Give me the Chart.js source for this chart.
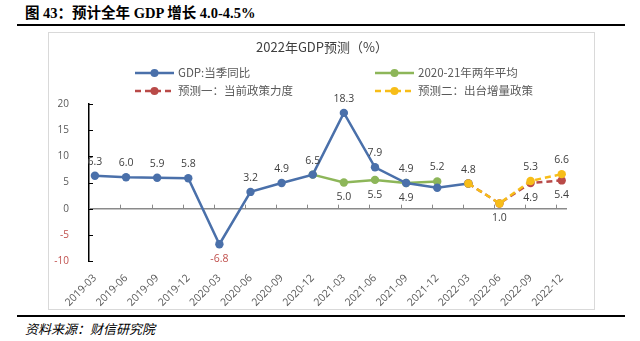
<!DOCTYPE html>
<html>
<head>
<meta charset="utf-8">
<script src="https://cdn.jsdelivr.net/npm/chart.js@4.4.0/dist/chart.umd.min.js"></script>
<style>
  body { margin: 0; width: 640px; height: 341px; background: #fff; position: relative; overflow: hidden; }
  .fig-title { position: absolute; left: 25px; top: 1px; font: bold 14.5px "Liberation Serif", "Noto Sans CJK SC", serif; color: #000; white-space: nowrap; }
  .rule { position: absolute; left: 17px; width: 608px; height: 2px; background: #000; }
  .box { position: absolute; left: 48px; top: 32px; width: 545px; height: 276px; border: 1px solid #d9d9d9; }
  #wrap { position: absolute; left: 48px; top: 32px; width: 547px; height: 278px; }
  .source { position: absolute; left: 25px; top: 319px; font: italic 13px "Noto Sans CJK SC", sans-serif; color: #000; white-space: nowrap; }
</style>
</head>
<body>
<div class="fig-title">图 43：预计全年 GDP 增长 4.0-4.5%</div>
<div class="rule" style="top:24px"></div>
<div class="box"></div>
<div id="wrap"><canvas id="gdpChart" width="547" height="278"></canvas></div>
<div class="rule" style="top:315px"></div>
<div class="source">资料来源：财信研究院</div>

<script>
const quarters = ['2019-03', '2019-06', '2019-09', '2019-12', '2020-03', '2020-06', '2020-09', '2020-12',
                  '2021-03', '2021-06', '2021-09', '2021-12', '2022-03', '2022-06', '2022-09', '2022-12'];
const gdpYoY = [6.3, 6.0, 5.9, 5.8, -6.8, 3.2, 4.9, 6.5, 18.3, 7.9, 4.9, 4.0, 4.8, null, null, null];
const twoYearAvg = [null, null, null, null, null, null, null, 6.5, 5.0, 5.5, 4.9, 5.2, null, null, null, null];
const forecastCurrent = [null, null, null, null, null, null, null, null, null, null, null, null, 4.8, 1.0, 4.9, 5.4];
const forecastStimulus = [null, null, null, null, null, null, null, null, null, null, null, null, 4.8, 1.0, 5.3, 6.6];
const yTicks = [-10, -5, 0, 5, 10, 15, 20];

// value label side per point: 'a' above, 'b' below, '' none
const gdpLabelSide = ['a', 'a', 'a', 'a', 'b', 'a', 'a', 'a', 'a', 'a', 'a', '', 'a', '', '', ''];
const avgLabelSide = ['', '', '', '', '', '', '', '', 'b', 'b', 'b', 'a', '', '', '', ''];
const currentLabelSide = ['', '', '', '', '', '', '', '', '', '', '', '', '', '', 'b', 'b'];
const stimulusLabelSide = ['', '', '', '', '', '', '', '', '', '', '', '', '', 'b', 'a', 'a'];

const BLUE = '#4a70aa';
const GREEN = '#8db659';
const RED = '#b94a48';
const YELLOW = '#f7bd18';
const NEG_RED = '#c0504d';
const NUM_FONT = '"Open Sans", "Liberation Sans", sans-serif';
const CJK_FONT = '"Noto Sans CJK SC", sans-serif';

function toPoints(values) {
    return values.map((v, i) => ({ x: i, y: v }));
}

// zero line with its small tick marks, plus inner ticks on the y axis
const axisMarks = {
    id: 'axisMarks',
    beforeDatasetsDraw(chart) {
        const { ctx, chartArea, scales } = chart;
        const y0 = scales.y.getPixelForValue(0);
        ctx.save();
        ctx.strokeStyle = '#8a8a8a';
        ctx.lineWidth = 1.5;
        ctx.beginPath();
        ctx.moveTo(chartArea.left, y0);
        ctx.lineTo(chartArea.right, y0);
        ctx.stroke();
        ctx.lineWidth = 1;
        quarters.forEach((q, i) => {
            if (i === 0) return;
            const x = Math.round(scales.x.getPixelForValue(i - 0.18)) + 0.5;
            ctx.beginPath();
            ctx.moveTo(x, y0);
            ctx.lineTo(x, y0 - 4);
            ctx.stroke();
        });
        ctx.strokeStyle = '#000';
        yTicks.forEach(v => {
            const y = Math.round(scales.y.getPixelForValue(v)) + 0.5;
            ctx.beginPath();
            ctx.moveTo(chartArea.left, y);
            ctx.lineTo(chartArea.left + 4, y);
            ctx.stroke();
        });
        ctx.restore();
    }
};

// numbers printed next to the markers
const valueLabels = {
    id: 'valueLabels',
    afterDatasetsDraw(chart) {
        const { ctx } = chart;
        ctx.save();
        ctx.font = '10.5px ' + NUM_FONT;
        ctx.textAlign = 'center';
        ctx.textBaseline = 'middle';
        chart.data.datasets.forEach((ds, di) => {
            const meta = chart.getDatasetMeta(di);
            meta.data.forEach((pt, i) => {
                const side = ds.labelSide[i];
                const v = ds.data[i].y;
                if (!side || v === null) return;
                ctx.fillStyle = v < 0 ? NEG_RED : '#404040';
                ctx.fillText(v.toFixed(1), pt.x, side === 'a' ? pt.y - 14 : pt.y + 15);
            });
        });
        ctx.restore();
    }
};

// chart heading and the two-column legend
const headerAndLegend = {
    id: 'headerAndLegend',
    afterDraw(chart) {
        const { ctx } = chart;
        ctx.save();
        ctx.fillStyle = '#404040';
        ctx.font = '13px ' + CJK_FONT;
        ctx.textAlign = 'center';
        ctx.textBaseline = 'middle';
        ctx.fillText('2022年GDP预测（%）', 274, 15);

        const items = [
            { ds: 0, x: 87, y: 41 },
            { ds: 1, x: 327, y: 41 },
            { ds: 2, x: 87, y: 59 },
            { ds: 3, x: 327, y: 59 }
        ];
        items.forEach(it => {
            const ds = chart.data.datasets[it.ds];
            ctx.strokeStyle = ds.borderColor;
            ctx.lineWidth = 2.5;
            ctx.setLineDash(ds.borderDash || []);
            ctx.beginPath();
            ctx.moveTo(it.x, it.y);
            ctx.lineTo(it.x + 39, it.y);
            ctx.stroke();
            ctx.setLineDash([]);
            ctx.fillStyle = ds.borderColor;
            ctx.beginPath();
            ctx.arc(it.x + 19.5, it.y, 4, 0, Math.PI * 2);
            ctx.fill();
            ctx.fillStyle = '#595959';
            ctx.font = '11.5px ' + CJK_FONT;
            ctx.textAlign = 'left';
            ctx.fillText(ds.label, it.x + 43, it.y);
        });
        ctx.restore();
    }
};

const ctx = document.getElementById('gdpChart').getContext('2d');

new Chart(ctx, {
    type: 'line',
    data: {
        datasets: [
            {
                label: 'GDP:当季同比',
                data: toPoints(gdpYoY),
                labelSide: gdpLabelSide,
                borderColor: BLUE,
                backgroundColor: BLUE,
                order: 1
            },
            {
                label: '2020-21年两年平均',
                data: toPoints(twoYearAvg),
                labelSide: avgLabelSide,
                borderColor: GREEN,
                backgroundColor: GREEN,
                order: 2
            },
            {
                label: '预测一：当前政策力度',
                data: toPoints(forecastCurrent),
                labelSide: currentLabelSide,
                borderColor: RED,
                backgroundColor: RED,
                borderDash: [6, 4],
                order: 3
            },
            {
                label: '预测二：出台增量政策',
                data: toPoints(forecastStimulus),
                labelSide: stimulusLabelSide,
                borderColor: YELLOW,
                backgroundColor: YELLOW,
                borderDash: [6, 4],
                order: 0
            }
        ]
    },
    options: {
        responsive: false,
        animation: false,
        layout: { padding: { top: 72, right: 28, bottom: 2, left: 0 } },
        elements: {
            line: { borderWidth: 2.5, tension: 0, fill: false },
            point: { radius: 4.2, borderWidth: 0, hoverRadius: 4.2 }
        },
        scales: {
            x: {
                type: 'linear',
                min: -0.19,
                max: 15.17,
                afterBuildTicks: s => { s.ticks = quarters.map((q, i) => ({ value: i })); },
                afterFit: s => { s.height = 47; },
                grid: { display: false },
                border: { display: false },
                ticks: {
                    autoSkip: false,
                    minRotation: 45,
                    maxRotation: 45,
                    padding: 3,
                    color: '#595959',
                    font: { size: 10.5, family: NUM_FONT },
                    callback: v => quarters[v]
                }
            },
            y: {
                min: -10,
                max: 20,
                afterBuildTicks: s => { s.ticks = yTicks.map(v => ({ value: v })); },
                afterFit: s => { s.width = 41; },
                grid: { display: false },
                border: { display: true, color: '#000', width: 1.5 },
                ticks: {
                    padding: 12,
                    color: c => c.tick.value < 0 ? NEG_RED : '#595959',
                    font: { size: 10, family: NUM_FONT }
                }
            }
        },
        plugins: {
            legend: { display: false },
            tooltip: { enabled: false }
        }
    },
    plugins: [axisMarks, valueLabels, headerAndLegend]
});
</script>
</body>
</html>
